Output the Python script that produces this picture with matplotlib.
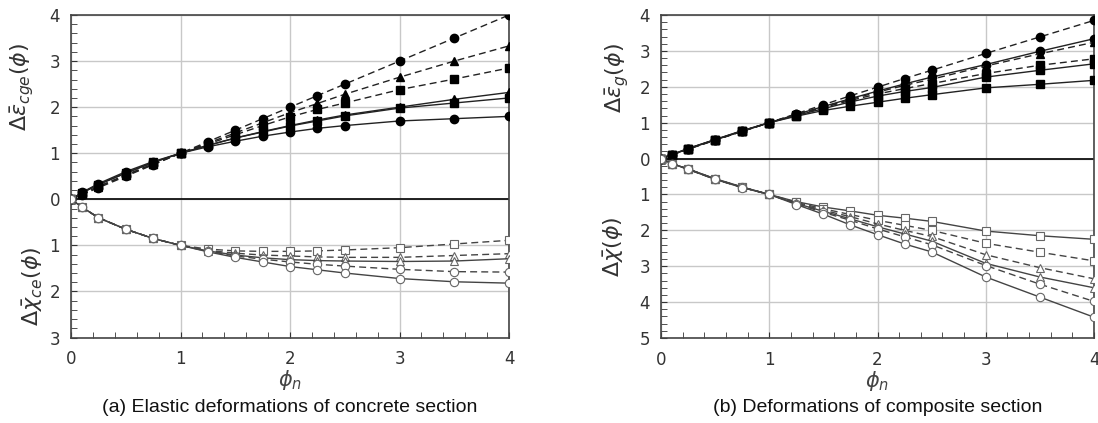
import matplotlib
matplotlib.use("Agg")
import matplotlib.pyplot as plt
from matplotlib.ticker import MultipleLocator, FuncFormatter

# phi_n sample points (shared by all curves)
phi = [0, 0.1, 0.25, 0.5, 0.75, 1, 1.25, 1.5, 1.75, 2, 2.25, 2.5, 3, 3.5, 4]

# (a) concrete section, upper half: eps_cge (filled markers)
a_eps_dash_circ = [0, 0.1, 0.25, 0.5, 0.75, 1, 1.25, 1.5, 1.75, 2.0, 2.25, 2.5, 3.0, 3.5, 4.0]
a_eps_dash_tri = [0, 0.11, 0.27, 0.52, 0.76, 1, 1.22, 1.44, 1.66, 1.88, 2.08, 2.28, 2.65, 3.0, 3.33]
a_eps_dash_sq = [0, 0.12, 0.28, 0.53, 0.77, 1, 1.2, 1.4, 1.6, 1.79, 1.95, 2.09, 2.38, 2.61, 2.85]
a_eps_solid_tri = [0, 0.14, 0.32, 0.57, 0.8, 1, 1.17, 1.33, 1.47, 1.6, 1.72, 1.83, 2.0, 2.17, 2.32]
a_eps_solid_sq = [0, 0.14, 0.32, 0.57, 0.8, 1, 1.17, 1.33, 1.46, 1.59, 1.7, 1.81, 1.98, 2.09, 2.2]
a_eps_solid_circ = [0, 0.15, 0.34, 0.6, 0.82, 1, 1.14, 1.26, 1.37, 1.46, 1.54, 1.6, 1.7, 1.75, 1.8]

# (a) lower half: chi_ce magnitudes (open markers, drawn downward)
a_chi_dash_sq = [0, 0.17, 0.4, 0.65, 0.85, 1, 1.08, 1.12, 1.13, 1.13, 1.12, 1.1, 1.05, 0.97, 0.89]
a_chi_dash_tri = [0, 0.17, 0.4, 0.65, 0.85, 1, 1.11, 1.17, 1.21, 1.23, 1.25, 1.26, 1.26, 1.22, 1.18]
a_chi_solid_tri = [0, 0.17, 0.4, 0.65, 0.85, 1, 1.12, 1.21, 1.27, 1.31, 1.33, 1.34, 1.35, 1.34, 1.29]
a_chi_dash_circ = [0, 0.17, 0.4, 0.65, 0.85, 1, 1.13, 1.23, 1.3, 1.36, 1.41, 1.45, 1.52, 1.57, 1.58]
a_chi_solid_circ = [0, 0.17, 0.4, 0.65, 0.85, 1, 1.14, 1.26, 1.36, 1.46, 1.53, 1.6, 1.72, 1.79, 1.82]

# (b) composite section, upper half: eps_g
b_eps_dash_circ = [0, 0.1, 0.26, 0.51, 0.76, 1, 1.25, 1.5, 1.75, 1.99, 2.23, 2.46, 2.93, 3.39, 3.85]
b_eps_solid_circ = [0, 0.1, 0.27, 0.52, 0.76, 1, 1.23, 1.45, 1.67, 1.88, 2.08, 2.27, 2.62, 2.99, 3.34]
b_eps_dash_tri = [0, 0.1, 0.27, 0.52, 0.76, 1, 1.23, 1.44, 1.65, 1.85, 2.04, 2.21, 2.58, 2.92, 3.24]
b_eps_dash_sq = [0, 0.1, 0.27, 0.52, 0.77, 1, 1.22, 1.42, 1.62, 1.8, 1.95, 2.09, 2.37, 2.6, 2.78]
b_eps_solid_tri = [0, 0.11, 0.28, 0.53, 0.77, 1, 1.2, 1.39, 1.58, 1.74, 1.87, 1.98, 2.27, 2.46, 2.64]
b_eps_solid_sq = [0, 0.11, 0.28, 0.53, 0.78, 1, 1.18, 1.34, 1.46, 1.57, 1.68, 1.78, 1.97, 2.07, 2.18]

# (b) lower half: chi magnitudes
b_chi_solid_sq = [0, 0.14, 0.29, 0.56, 0.79, 1, 1.2, 1.35, 1.46, 1.58, 1.66, 1.75, 2.02, 2.15, 2.25]
b_chi_dash_sq = [0, 0.14, 0.29, 0.57, 0.8, 1, 1.22, 1.4, 1.56, 1.72, 1.86, 2.0, 2.36, 2.61, 2.85]
b_chi_dash_tri = [0, 0.14, 0.29, 0.57, 0.8, 1, 1.24, 1.44, 1.62, 1.82, 2.0, 2.17, 2.68, 3.04, 3.35]
b_chi_solid_tri = [0, 0.14, 0.29, 0.57, 0.8, 1, 1.25, 1.47, 1.68, 1.9, 2.1, 2.3, 2.92, 3.3, 3.6]
b_chi_dash_circ = [0, 0.14, 0.3, 0.58, 0.8, 1, 1.26, 1.5, 1.72, 1.96, 2.18, 2.4, 2.98, 3.5, 3.98]
b_chi_solid_circ = [0, 0.14, 0.3, 0.58, 0.81, 1, 1.28, 1.55, 1.85, 2.12, 2.38, 2.6, 3.3, 3.86, 4.42]

DASH = (0, (5, 3))


def draw(ax, y, ls, marker, filled):
    if filled:
        ax.plot(phi, y, color='#222222', ls=ls, lw=1.0, marker=marker,
                ms=6, mfc='black', mec='black', zorder=3)
    else:
        ax.plot(phi, [-v for v in y], color='#444444', ls=ls, lw=1.0,
                marker=marker, ms=6, mfc='white', mec='#666666',
                mew=0.8, zorder=3)


def style(ax, ymin, ymax):
    ax.set_xlim(0, 4)
    ax.set_ylim(ymin, ymax)
    ax.xaxis.set_major_locator(MultipleLocator(1))
    ax.yaxis.set_major_locator(MultipleLocator(1))
    ax.xaxis.set_minor_locator(MultipleLocator(0.2))
    ax.yaxis.set_minor_locator(MultipleLocator(0.2))
    ax.yaxis.set_major_formatter(FuncFormatter(lambda v, p: "%g" % abs(v)))
    ax.grid(True, which='major', color='#c8c8c8', lw=1.0, zorder=0)
    ax.axhline(0, color='#111111', lw=1.3, zorder=2)
    ax.tick_params(which='both', direction='in', top=False, right=False,
                   labelsize=12, labelcolor='#333333', color='#333333')
    ax.tick_params(axis='x', which='major', length=4, pad=9)
    ax.tick_params(axis='y', which='major', length=4, pad=8)
    ax.tick_params(which='minor', length=4)
    for s in ax.spines.values():
        s.set_color('#444444')
        s.set_linewidth(1.2)
    ax.set_axisbelow(True)


fig = plt.figure(figsize=(10.98, 4.23), dpi=100)
ax1 = fig.add_axes([0.0647, 0.2021, 0.3989, 0.7624])
ax2 = fig.add_axes([0.602, 0.2009, 0.3944, 0.7636])

draw(ax1, a_eps_dash_circ, DASH, 'o', True)
draw(ax1, a_eps_dash_tri, DASH, '^', True)
draw(ax1, a_eps_dash_sq, DASH, 's', True)
draw(ax1, a_eps_solid_tri, '-', '^', True)
draw(ax1, a_eps_solid_sq, '-', 's', True)
draw(ax1, a_eps_solid_circ, '-', 'o', True)
draw(ax1, a_chi_dash_sq, DASH, 's', False)
draw(ax1, a_chi_dash_tri, DASH, '^', False)
draw(ax1, a_chi_solid_tri, '-', '^', False)
draw(ax1, a_chi_dash_circ, DASH, 'o', False)
draw(ax1, a_chi_solid_circ, '-', 'o', False)
style(ax1, -3, 4)

draw(ax2, b_eps_dash_circ, DASH, 'o', True)
draw(ax2, b_eps_solid_circ, '-', 'o', True)
draw(ax2, b_eps_dash_tri, DASH, '^', True)
draw(ax2, b_eps_dash_sq, DASH, 's', True)
draw(ax2, b_eps_solid_tri, '-', 's', True)
draw(ax2, b_eps_solid_sq, '-', 's', True)
draw(ax2, b_chi_solid_sq, '-', 's', False)
draw(ax2, b_chi_dash_sq, DASH, 's', False)
draw(ax2, b_chi_dash_tri, DASH, '^', False)
draw(ax2, b_chi_solid_tri, '-', '^', False)
draw(ax2, b_chi_dash_circ, DASH, 'o', False)
draw(ax2, b_chi_solid_circ, '-', 'o', False)
style(ax2, -5, 4)

lab = dict(rotation=90, ha='center', va='center', fontsize=16, color='#333333')
fig.text(0.020, 0.794, r'$\mathit{\Delta}\bar{\epsilon}_{cge}(\phi)$', **lab)
fig.text(0.030, 0.324, r'$\mathit{\Delta}\bar{\chi}_{ce}(\phi)$', **lab)
fig.text(0.562, 0.816, r'$\mathit{\Delta}\bar{\epsilon}_{g}(\phi)$', **lab)
fig.text(0.559, 0.416, r'$\mathit{\Delta}\bar{\chi}(\phi)$', **lab)

for ax in (ax1, ax2):
    ax.set_xlabel(r'$\phi_n$', fontsize=15, color='#444444', labelpad=0)

cap = dict(ha='center', va='center', fontsize=14, family='Liberation Sans',
           color='#111111')
fig.text(0.264, 0.036, '(a) Elastic deformations of concrete section', **cap)
fig.text(0.799, 0.036, '(b) Deformations of composite section', **cap)

fig.savefig('out.png', dpi=100)
